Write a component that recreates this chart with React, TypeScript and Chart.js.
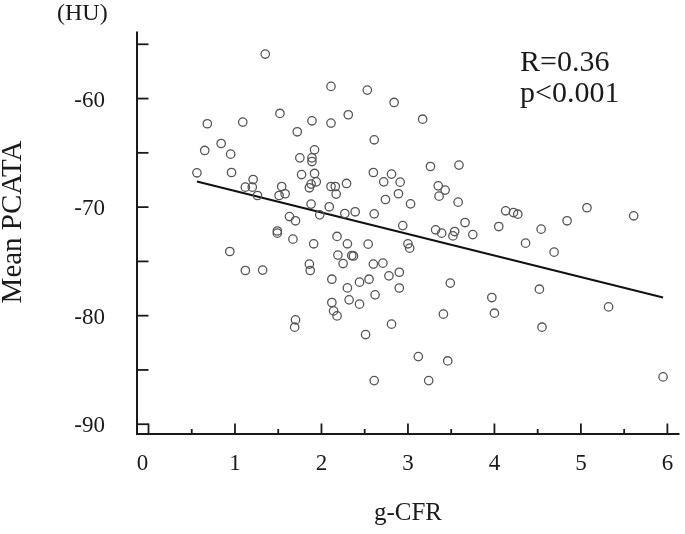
import React, { useEffect, useRef } from "react";
import { Chart, registerables } from "chart.js";

Chart.register(...registerables);

// g-CFR values (x)
const gcfr: number[] = [
  1.35, 2.11, 2.53, 2.84, 0.68, 1.09, 1.52, 1.89, 2.11, 2.31,
  1.72, 2.61, 0.65, 0.84, 0.95, 1.92, 1.75, 1.89, 1.89, 0.56,
  0.96, 1.77, 1.92, 2.6, 2.81, 1.21, 1.12, 1.2, 1.26, 1.54,
  1.51, 1.58, 1.94, 1.88, 1.86, 2.11, 2.16, 2.17, 2.29, 2.72,
  2.91, 2.89, 2.74, 1.88, 2.09, 1.98, 2.27, 2.39, 2.61, 1.63,
  1.7, 2.94, 3.03, 1.49, 1.49, 1.67, 2.18,
  3.17, 3.26, 3.59, 3.35, 3.43, 3.36, 3.58, 3.66, 4.05, 4.13,
  4.22, 4.27, 4.54, 4.84, 5.07, 5.61, 3.32, 3.39, 3.54, 3.52,
  3.75,
  3.0, 3.02, 4.36, 4.69, 2.9, 2.9, 3.49, 3.97, 4.0, 4.52,
  4.55, 5.32, 3.41, 3.12, 3.46, 3.24, 5.95,
  0.94, 1.12, 1.32, 1.91, 1.86, 1.87, 2.3, 2.54, 2.19, 2.25,
  2.35, 2.37, 2.12, 2.3, 2.44, 2.55, 2.6, 2.71, 2.78, 2.62,
  2.32, 2.44, 2.12, 2.14, 2.18, 2.81, 1.7, 1.69, 2.51, 2.61,
];

// Mean PCATA values (y, HU)
const pcata: number[] = [
  -55.9, -58.88, -59.22, -60.36, -62.32, -62.17, -61.37, -62.05, -62.26, -61.49,
  -63.06, -63.8, -64.78, -64.14, -65.12, -64.72, -65.46, -65.46, -65.8, -66.84,
  -66.81, -67.0, -66.9, -66.81, -66.96, -67.46, -68.16, -68.16, -68.93, -68.1,
  -68.93, -68.77, -67.67, -67.88, -68.22, -68.1, -68.1, -68.8, -67.82, -67.67,
  -67.7, -68.77, -69.3, -69.72, -69.97, -70.71, -70.59, -70.43, -70.62, -70.87,
  -71.26, -71.7, -69.7, -72.2, -72.4, -72.95, -72.7,
  -61.9, -66.26, -66.13, -68.04, -68.43, -68.99, -69.54, -71.42, -71.79, -70.34,
  -70.5, -70.65, -72.03, -71.26, -70.06, -70.8, -72.09, -72.4, -72.25, -72.65,
  -72.53,
  -73.38, -73.78, -73.32, -74.15, -76.0, -77.45, -77.0, -78.33, -79.77, -77.56,
  -81.06, -79.19, -79.86, -83.77, -84.17, -85.98, -85.64,
  -74.09, -75.84, -75.8, -73.38, -75.25, -75.84, -73.38, -73.41, -74.42, -75.2,
  -74.46, -74.5, -76.64, -77.44, -76.91, -76.64, -75.25, -75.16, -76.33, -78.08,
  -78.54, -78.94, -78.79, -79.56, -80.02, -80.78, -80.39, -81.06, -81.74, -85.98,
];

// Regression line end points
const regX: number[] = [0.56, 5.95];
const regY: number[] = [-67.64, -78.33];

const xTicks: number[] = [0, 1, 2, 3, 4, 5, 6];
const xMinorTicks: number[] = [0.5, 1.5, 2.5, 3.5, 4.5, 5.5];
const yTicks: number[] = [-55, -60, -65, -70, -75, -80, -85, -90];
const yLabelTicks: number[] = [-60, -70, -80, -90];
const statLines: string[] = ["R=0.36", "p<0.001"];
const xTitle = "g-CFR";
const yTitle = "Mean PCATA";
const yUnit = "(HU)";

const FONT = '"Liberation Serif", "Times New Roman", serif';

const axesPlugin = {
  id: "customAxes",
  afterDraw(chart: any) {
    const ctx = chart.ctx as CanvasRenderingContext2D;
    const xs = chart.scales.x;
    const ys = chart.scales.y;
    const { left, right, top, bottom } = chart.chartArea;
    ctx.save();
    ctx.strokeStyle = "#1a1a1a";
    ctx.lineWidth = 2;
    // axis lines
    ctx.beginPath();
    ctx.moveTo(left, top - 1.5);
    ctx.lineTo(left, bottom);
    ctx.lineTo(right, bottom);
    ctx.stroke();
    // y ticks (inward)
    ctx.lineWidth = 1.8;
    yTicks.forEach((v) => {
      const py = ys.getPixelForValue(v);
      ctx.beginPath();
      ctx.moveTo(left, py);
      ctx.lineTo(left + 11.5, py);
      ctx.stroke();
    });
    // x ticks
    xTicks.forEach((v) => {
      const px = xs.getPixelForValue(v);
      ctx.beginPath();
      ctx.moveTo(px, bottom);
      ctx.lineTo(px, bottom - 10.5);
      ctx.stroke();
    });
    xMinorTicks.forEach((v) => {
      const px = xs.getPixelForValue(v);
      ctx.beginPath();
      ctx.moveTo(px, bottom);
      ctx.lineTo(px, bottom - 5);
      ctx.stroke();
    });
    // labels
    ctx.fillStyle = "#1a1a1a";
    ctx.font = `23px ${FONT}`;
    ctx.textAlign = "right";
    ctx.textBaseline = "middle";
    yLabelTicks.forEach((v) => {
      const py = ys.getPixelForValue(v);
      ctx.fillText(String(v), 105, py + 2);
    });
    ctx.textAlign = "center";
    xTicks.forEach((v, i) => {
      let px = xs.getPixelForValue(v);
      if (i === 0) px -= 6;
      ctx.fillText(String(v), px, 464);
    });
    // titles
    ctx.font = `25px ${FONT}`;
    ctx.fillText(xTitle, xs.getPixelForValue(3), 513);
    ctx.save();
    ctx.translate(13, 222);
    ctx.rotate(-Math.PI / 2);
    ctx.font = `29px ${FONT}`;
    ctx.fillText(yTitle, 0, 0);
    ctx.restore();
    ctx.font = `24px ${FONT}`;
    ctx.textAlign = "left";
    ctx.fillText(yUnit, 57, 14);
    // stats
    ctx.font = `30px ${FONT}`;
    ctx.textBaseline = "alphabetic";
    ctx.fillText(statLines[0], 520, 71);
    ctx.fillText(statLines[1], 520, 102);
    ctx.restore();
  },
};

export default function App() {
  const ref = useRef<HTMLCanvasElement | null>(null);
  useEffect(() => {
    if (!ref.current) return;
    const chart = new Chart(ref.current, {
      type: "scatter",
      data: {
        datasets: [
          {
            type: "scatter",
            data: gcfr.map((x, i) => ({ x, y: pcata[i] })),
            pointRadius: 4.2,
            pointBorderWidth: 1.3,
            borderColor: "#555555",
            backgroundColor: "rgba(0,0,0,0)",
            pointHoverRadius: 4.2,
          },
          {
            type: "line",
            data: regX.map((x, i) => ({ x, y: regY[i] })),
            borderColor: "#111111",
            borderWidth: 2,
            pointRadius: 0,
            showLine: true,
            fill: false,
          } as any,
        ],
      },
      options: {
        animation: false,
        responsive: false,
        devicePixelRatio: 1,
        layout: { padding: { left: 137, top: 33, right: 2, bottom: 100 } },
        plugins: { legend: { display: false }, tooltip: { enabled: false } },
        scales: {
          x: { type: "linear", min: -0.133, max: 6.14, display: false },
          y: { type: "linear", min: -90.9, max: -53.96, display: false },
        },
      },
      plugins: [axesPlugin],
    });
    return () => chart.destroy();
  }, []);
  return (
    <div style={{ position: "absolute", left: 0, top: 0, width: 685, height: 534, background: "#fff" }}>
      <canvas ref={ref} width={685} height={534} style={{ display: "block", width: 685, height: 534 }} />
    </div>
  );
}
